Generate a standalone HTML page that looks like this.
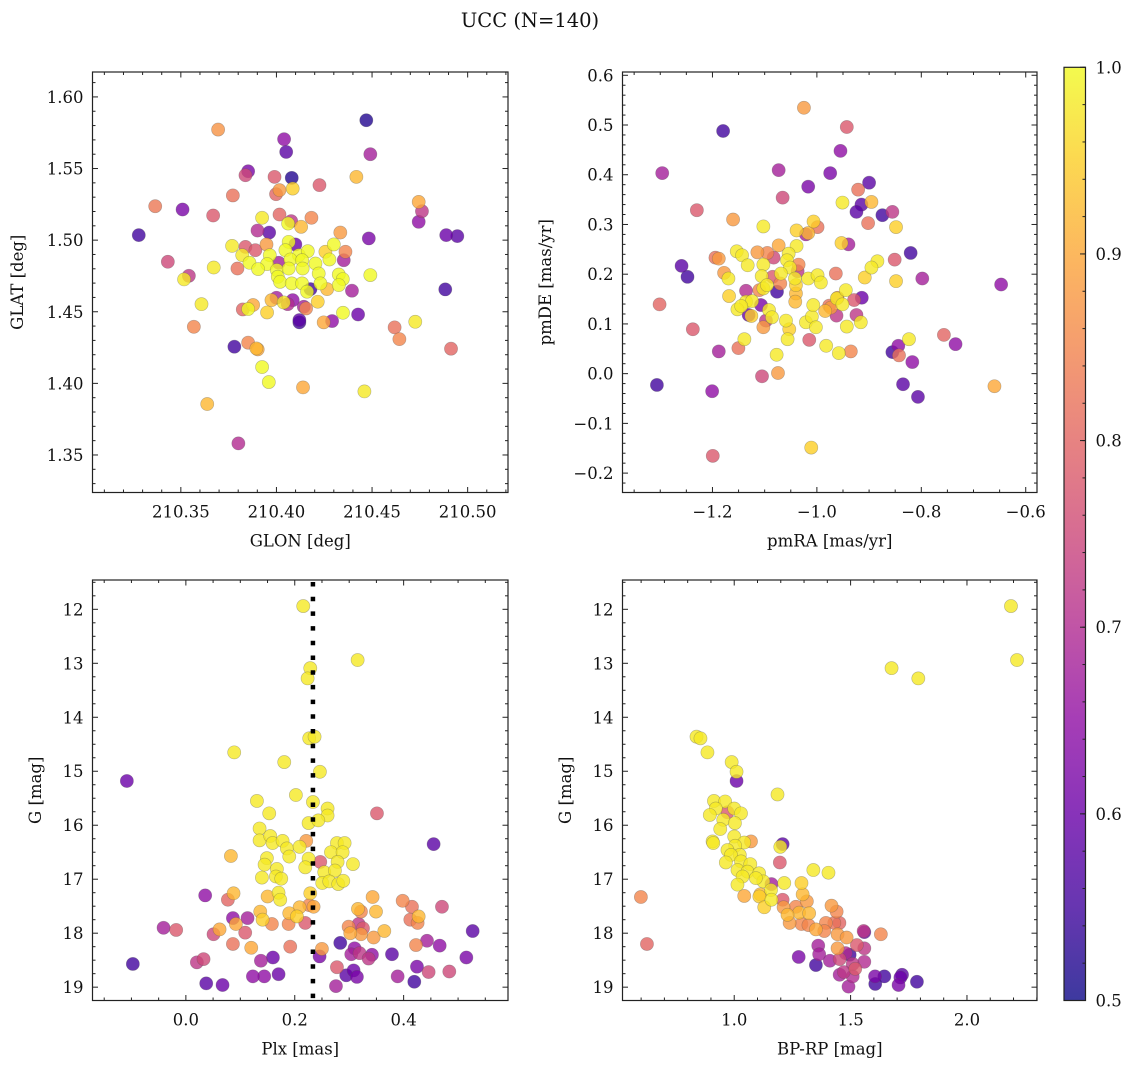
<!DOCTYPE html>
<html><head><meta charset="utf-8">
<style>
html,body{margin:0;padding:0;background:#fff;}
svg{display:block;font-family:"DejaVu Serif","Liberation Serif",serif;}
</style></head>
<body>
<svg id="fig" width="1136" height="1067" viewBox="0 0 1136 1067" xmlns="http://www.w3.org/2000/svg">
<rect width="1136" height="1067" fill="#fff"/>
<text x="530" y="27" font-size="19.5" text-anchor="middle" fill="#111">UCC (N=140)</text>
</svg>
<script>
// ---------- Panel 1: GLON vs GLAT ----------
const glon1 = [210.4470,210.3695,210.4040,210.4051,210.4491,210.3852,210.3838,210.3990,210.4080,210.4418,210.4225,210.4016,210.4085,210.3998,210.3772,210.4744,210.4761,210.3366,210.3509,210.3669,210.3925,210.4016,210.4077,210.4061,210.4183,210.4129,210.4744,210.3901,210.3962,210.4334,210.3280,210.4483,210.4888,210.4946,210.3768,210.3838,210.3948,210.4064,210.4099,210.3890,210.3821,210.3965,210.4047,210.4117,210.4164,210.4256,210.4300,210.4361,210.4352,210.4277,210.3432,210.3859,210.3951,210.4012,210.4073,210.4134,210.4204,210.3672,210.3796,210.3904,210.4002,210.4064,210.4137,210.4221,210.3542,210.3517,210.4007,210.4019,210.4080,210.4134,210.4230,210.4326,210.4347,210.4326,210.4491,210.4178,210.4160,210.4265,210.4395,210.4883,210.3608,210.3878,210.3974,210.4000,210.4038,210.4059,210.4085,210.4143,210.4155,210.4216,210.3824,210.3852,210.3951,210.4120,210.4120,210.4291,210.4247,210.4348,210.4427,210.4726,210.3568,210.4618,210.4643,210.4913,210.3780,210.3852,210.3895,210.3902,210.3925,210.3960,210.4139,210.4460,210.3638,210.3801];
const glat1 = [1.5837,1.5772,1.5705,1.5616,1.5600,1.5481,1.5453,1.5442,1.5435,1.5442,1.5384,1.5349,1.5360,1.5321,1.5312,1.5267,1.5202,1.5237,1.5214,1.5172,1.5156,1.5179,1.5133,1.5116,1.5156,1.5093,1.5128,1.5067,1.5053,1.5053,1.5035,1.5012,1.5035,1.5028,1.4960,1.4953,1.4970,1.4988,1.4970,1.4930,1.4895,1.4895,1.4930,1.4895,1.4923,1.4919,1.4970,1.4919,1.4860,1.4865,1.4849,1.4842,1.4833,1.4842,1.4865,1.4860,1.4837,1.4809,1.4802,1.4798,1.4791,1.4802,1.4802,1.4767,1.4751,1.4726,1.4744,1.4709,1.4698,1.4698,1.4698,1.4760,1.4728,1.4686,1.4756,1.4658,1.4640,1.4658,1.4647,1.4656,1.4553,1.4547,1.4581,1.4598,1.4565,1.4553,1.4581,1.4535,1.4523,1.4570,1.4516,1.4519,1.4495,1.4442,1.4426,1.4435,1.4426,1.4493,1.4481,1.4430,1.4395,1.4391,1.4309,1.4242,1.4256,1.4284,1.4244,1.4237,1.4114,1.4009,1.3972,1.3944,1.3856,1.3581];
const prob1 = [0.52,0.87,0.65,0.58,0.68,0.62,0.75,0.78,0.52,0.92,0.78,0.88,0.95,0.8,0.82,0.9,0.72,0.83,0.62,0.78,0.98,0.8,0.72,1.0,0.85,0.92,0.65,0.7,0.58,0.88,0.55,0.62,0.6,0.58,0.98,0.78,0.88,1.0,0.6,0.78,0.98,1.0,1.0,1.0,1.0,0.95,1.0,0.85,0.68,1.0,0.75,1.0,1.0,0.68,1.0,1.0,1.0,0.98,0.82,1.0,1.0,1.0,1.0,1.0,0.72,0.98,1.0,1.0,1.0,1.0,1.0,1.0,1.0,1.0,1.0,0.55,1.0,0.92,0.68,0.55,0.98,0.9,0.92,0.68,0.98,0.7,0.65,0.68,0.85,0.95,0.8,1.0,0.95,0.58,0.55,0.65,0.9,1.0,0.6,0.98,0.85,0.82,0.85,0.8,0.55,0.85,0.92,0.9,1.0,1.0,0.9,0.98,0.92,0.7];

// ---------- Panel 2: pmRA vs pmDE ----------
const pmra2 = [-1.0248,-0.9427,-1.1796,-1.2962,-0.9548,-1.0732,-0.9745,-1.0166,-0.9000,-0.9210,-1.0656,-0.9510,-0.9146,-0.8955,-0.9242,-0.8745,-0.8554,-1.2299,-1.1605,-0.9019,-0.8484,-1.1025,-1.0389,-1.0064,-0.9987,-1.0210,-1.0166,-0.9529,-0.9395,-1.0732,-1.0389,-1.1535,-1.1433,-1.1140,-1.0949,-1.0828,-1.0541,-1.0573,-1.1943,-1.1879,-1.2592,-1.2478,-1.1325,-1.1025,-1.0516,-1.0350,-1.0369,-1.0688,-0.8841,-0.8955,-0.8510,-0.8204,-1.1777,-1.1694,-1.1057,-1.0847,-1.0420,-1.0166,-0.9987,-0.9924,-0.9637,-0.9083,-0.8484,-0.7981,-0.6471,-1.1357,-1.1102,-1.1025,-1.0955,-1.0764,-1.0701,-1.0401,-1.0401,-1.0414,-1.1682,-1.3013,-1.1357,-1.1242,-1.1070,-1.1522,-1.1450,-1.1306,-1.1255,-1.0917,-1.0860,-1.0975,-1.1025,-1.0592,-1.0529,-1.0561,-1.0210,-1.0096,-1.0070,-1.0019,-0.9841,-0.9764,-0.9732,-0.9624,-0.9605,-0.9618,-0.9446,-0.9510,-0.9287,-0.9140,-0.9242,-0.9159,-0.9427,-1.2376,-1.1389,-1.1503,-1.1879,-1.0146,-0.9822,-0.9580,-0.9350,-1.0771,-0.8236,-0.8440,-0.8554,-0.8427,-0.8172,-0.7567,-0.7344,-1.1051,-1.0745,-1.3064,-1.2006,-0.8350,-0.8064,-0.6599,-1.0108,-1.1994];
const pmde2 = [0.5347,0.4960,0.4880,0.4033,0.4480,0.4093,0.4033,0.3760,0.3840,0.3700,0.3540,0.3440,0.3400,0.3453,0.3253,0.3187,0.3253,0.3287,0.3100,0.3027,0.2947,0.2960,0.2880,0.3060,0.2947,0.2800,0.2827,0.2627,0.2600,0.2580,0.2567,0.2460,0.2380,0.2440,0.2427,0.2333,0.2413,0.2280,0.2333,0.2313,0.2167,0.1947,0.2180,0.2193,0.2133,0.2193,0.2060,0.2013,0.2260,0.2133,0.2293,0.2427,0.2027,0.1913,0.1960,0.1947,0.1913,0.1913,0.1980,0.1833,0.2013,0.1933,0.1860,0.1913,0.1793,0.1667,0.1680,0.1713,0.1780,0.1647,0.1813,0.1780,0.1613,0.1447,0.1560,0.1393,0.1447,0.1460,0.1380,0.1293,0.1360,0.1180,0.1160,0.1280,0.1133,0.1067,0.0933,0.1067,0.0893,0.0693,0.1033,0.1147,0.1380,0.0933,0.1260,0.1367,0.1327,0.1167,0.1527,0.1513,0.1680,0.1393,0.1480,0.1527,0.1180,0.1033,0.0947,0.0893,0.0693,0.0513,0.0447,0.0680,0.0560,0.0413,0.0447,0.0380,0.0693,0.0560,0.0433,0.0367,0.0233,0.0780,0.0593,-0.0053,0.0013,-0.0227,-0.0353,-0.0213,-0.0467,-0.0253,-0.1487,-0.1653];
const prob2 = [0.88,0.78,0.55,0.68,0.65,0.68,0.62,0.62,0.58,0.82,0.75,0.98,0.58,0.92,0.58,0.55,0.72,0.78,0.88,0.82,0.95,0.98,0.95,0.95,0.82,0.68,0.92,0.95,0.68,0.9,0.98,0.98,0.98,0.88,0.85,0.75,0.98,0.98,0.82,0.88,0.58,0.55,0.98,0.98,0.98,0.85,0.72,0.98,0.98,0.98,0.78,0.55,0.88,0.98,0.98,0.78,0.98,0.98,0.98,0.98,0.82,0.95,0.95,0.68,0.65,0.7,0.85,0.98,0.98,0.55,0.85,0.95,0.92,0.92,0.95,0.8,0.98,0.98,0.62,0.98,0.98,0.6,0.95,0.98,0.98,0.72,0.88,0.98,0.95,0.98,0.98,0.98,0.98,0.98,0.92,0.82,0.88,0.72,0.85,0.98,0.98,0.98,0.78,0.6,0.72,0.98,0.98,0.78,0.98,0.82,0.68,0.78,0.98,0.98,0.85,0.98,0.98,0.65,0.55,0.82,0.65,0.8,0.65,0.75,0.88,0.55,0.65,0.58,0.58,0.9,0.95,0.78];

// ---------- Panel 3: Plx vs G ----------
const plx3 = [0.2156,0.3155,0.2285,0.2236,0.2266,0.2364,0.0888,0.1807,0.2462,-0.1084,0.2021,0.1305,0.2334,0.2603,0.2603,0.1531,0.3510,0.2254,0.2432,0.1354,0.1354,0.1550,0.1593,0.1777,0.1856,0.1899,0.2089,0.2211,0.2775,0.2916,0.2665,0.2879,0.4551,0.0827,0.1488,0.1446,0.1672,0.1654,0.1752,0.1397,0.2254,0.2469,0.2193,0.2787,0.3069,0.2542,0.2738,0.2505,0.2634,0.2799,0.2891,0.2285,0.0876,0.0355,0.0772,0.1501,0.1703,0.1733,0.3430,0.3982,0.2346,0.2266,0.2089,0.1899,0.2040,0.1366,0.1409,0.3161,0.3216,0.3492,0.4153,0.4276,0.4123,0.4257,0.4704,0.0864,0.1133,0.0919,0.1580,0.1887,0.2193,-0.0410,-0.0178,0.0508,0.0619,0.1090,0.2989,0.3173,0.3253,0.3020,0.3216,0.3449,0.3645,0.5268,0.0864,0.1201,0.1917,0.2499,0.2836,0.4227,0.4429,0.4662,0.3099,0.3191,0.3038,0.3418,0.3357,0.3786,0.5152,0.2456,0.1599,0.1378,0.0325,0.0202,-0.0974,0.2775,0.3081,0.2946,0.3142,0.1703,0.1440,0.1231,0.0374,0.0674,0.2757,0.3890,0.4245,0.4196,0.4459,0.4839];
const gmag3 = [11.94,12.94,13.09,13.28,14.39,14.36,14.65,14.83,15.01,15.18,15.44,15.55,15.57,15.69,15.82,15.78,15.78,15.96,15.91,16.06,16.28,16.20,16.33,16.29,16.43,16.58,16.40,16.29,16.33,16.33,16.50,16.50,16.35,16.57,16.61,16.73,16.81,16.95,16.99,16.97,16.62,16.68,16.78,16.68,16.72,16.87,16.84,17.07,17.04,17.09,17.03,17.26,17.26,17.30,17.38,17.32,17.25,17.38,17.33,17.40,17.51,17.48,17.52,17.63,17.69,17.60,17.75,17.55,17.60,17.60,17.51,17.69,17.75,17.81,17.51,17.72,17.72,17.83,17.83,17.83,17.81,17.90,17.94,18.02,17.93,17.99,17.88,17.83,17.91,18.00,18.02,18.08,17.96,17.96,18.20,18.27,18.25,18.29,18.18,18.22,18.14,18.23,18.28,18.37,18.39,18.40,18.47,18.39,18.45,18.43,18.45,18.51,18.48,18.54,18.57,18.63,18.69,18.78,18.81,18.76,18.80,18.80,18.93,18.96,18.98,18.80,18.62,18.90,18.72,18.71];
const prob3 = [0.98,0.98,0.98,0.98,0.98,0.98,0.98,0.98,0.98,0.6,0.98,0.98,0.98,0.98,0.98,0.98,0.78,0.98,0.98,0.98,0.98,0.98,0.98,0.98,0.98,0.98,0.98,0.88,0.98,0.98,0.98,0.98,0.58,0.92,0.98,0.98,0.98,0.98,0.98,0.98,0.98,0.78,0.98,0.98,0.98,0.98,0.98,0.98,0.98,0.98,0.98,0.95,0.92,0.65,0.8,0.92,0.98,0.98,0.9,0.85,0.9,0.85,0.92,0.92,0.95,0.92,0.95,0.92,0.85,0.92,0.82,0.92,0.82,0.85,0.75,0.65,0.68,0.9,0.85,0.85,0.78,0.68,0.78,0.75,0.9,0.78,0.85,0.72,0.78,0.9,0.88,0.88,0.92,0.58,0.82,0.9,0.82,0.88,0.55,0.85,0.68,0.65,0.65,0.72,0.68,0.65,0.72,0.58,0.62,0.62,0.6,0.68,0.75,0.72,0.55,0.78,0.6,0.58,0.62,0.6,0.65,0.65,0.58,0.6,0.68,0.68,0.62,0.55,0.75,0.75];
const plxLine = 0.2334;

// ---------- Panel 4: BP-RP vs G ----------
const bprp4 = [2.189,2.215,1.676,1.791,0.838,0.855,0.885,0.989,1.010,1.010,1.186,0.913,0.961,0.921,1.000,0.971,0.895,1.029,0.953,1.003,0.940,1.000,0.907,0.910,1.072,1.043,1.004,0.971,1.208,1.198,1.024,0.986,0.964,1.029,1.069,1.196,1.014,1.057,1.036,1.107,1.125,1.093,1.014,1.160,1.215,1.340,1.405,1.289,1.158,1.112,1.108,1.043,1.294,1.160,1.208,1.312,1.129,1.212,1.265,1.279,1.322,1.229,1.238,1.289,1.319,1.418,1.440,1.394,1.430,1.452,1.351,1.387,1.444,1.483,1.556,1.559,1.630,0.599,0.625,1.361,1.365,1.277,1.351,1.411,1.444,1.479,1.527,1.559,1.453,1.496,1.509,1.520,1.559,1.453,1.471,1.509,1.491,1.605,1.606,1.645,1.706,1.721,1.714,1.785];
const gmag4 = [11.94,12.94,13.09,13.28,14.36,14.39,14.65,14.83,15.01,15.18,15.43,15.55,15.56,15.69,15.69,15.76,15.81,15.78,15.90,15.96,16.07,16.21,16.30,16.33,16.30,16.32,16.38,16.46,16.35,16.40,16.55,16.55,16.69,16.67,16.72,16.69,16.83,16.86,16.95,16.89,17.04,16.98,17.10,17.09,17.07,16.83,16.88,17.07,17.20,17.28,17.32,17.31,17.28,17.38,17.38,17.41,17.52,17.52,17.51,17.62,17.63,17.66,17.81,17.83,17.85,17.49,17.60,17.81,17.81,17.81,17.93,17.96,18.02,18.08,17.96,17.98,18.02,17.33,18.20,18.23,18.39,18.44,18.59,18.51,18.28,18.37,18.22,18.28,18.48,18.40,18.57,18.66,18.53,18.77,18.72,18.80,18.99,18.80,18.94,18.80,18.96,18.77,18.82,18.90];
const prob4 = [0.98,0.98,0.98,0.98,0.98,0.98,0.98,0.98,0.98,0.6,0.98,0.98,0.98,0.98,0.98,0.78,0.98,0.98,0.98,0.98,0.98,0.98,0.98,0.98,0.88,0.98,0.98,0.98,0.58,0.98,0.98,0.98,0.98,0.98,0.98,0.78,0.98,0.98,0.98,0.98,0.98,0.98,0.98,0.68,0.98,0.98,0.98,0.95,0.98,0.92,0.95,0.9,0.92,0.98,0.78,0.88,0.95,0.88,0.85,0.92,0.92,0.92,0.88,0.85,0.85,0.88,0.85,0.85,0.82,0.8,0.9,0.85,0.88,0.88,0.72,0.6,0.85,0.85,0.8,0.68,0.68,0.62,0.55,0.68,0.88,0.7,0.78,0.72,0.75,0.55,0.72,0.78,0.7,0.68,0.72,0.7,0.68,0.62,0.55,0.55,0.62,0.58,0.6,0.55];

// colorbar
const cbTicks = [0.5,0.6,0.7,0.8,0.9,1.0];
const cbMin = 0.5, cbMax = 1.0;

const NS = "http://www.w3.org/2000/svg";
const svg = document.getElementById('fig');
function el(tag, attrs, parent){
  const e = document.createElementNS(NS, tag);
  for (const k in attrs) e.setAttribute(k, attrs[k]);
  (parent||svg).appendChild(e);
  return e;
}
const plasmaStops = ["#0d0887","#41049d","#6a00a8","#8f0da4","#b12a90","#cc4778","#e16462","#f2844b","#fca636","#fcce25","#f0f921"];
function hex(h){return [parseInt(h.slice(1,3),16),parseInt(h.slice(3,5),16),parseInt(h.slice(5,7),16)];}
function cmap(v){
  let t=(v-cbMin)/(cbMax-cbMin); t=Math.max(0,Math.min(1,t));
  const f=t*10, i=Math.min(9,Math.floor(f)), r=f-i;
  const a=hex(plasmaStops[i]), b=hex(plasmaStops[i+1]);
  return "rgb("+a.map((x,k)=>Math.round(x+(b[k]-x)*r)).join(",")+")";
}
function fmt(v,d){ const s=Math.abs(v).toFixed(d); return (v< -1e-9?"\u2212":"")+s; }
const TICKFS = 16.5, LABFS = 16.5;

function panel(cfg){
  const g = el('g',{});
  
  
  const L=cfg.x0,R=cfg.x1,T=cfg.y0,B=cfg.y1;
  const sx=v=>L+(v-cfg.xmin)/(cfg.xmax-cfg.xmin)*(R-L);
  const sy=cfg.yinv ? (v=>T+(v-cfg.ymin)/(cfg.ymax-cfg.ymin)*(B-T)) : (v=>B-(v-cfg.ymin)/(cfg.ymax-cfg.ymin)*(B-T));
  const pg = el('g',{},g);
  
  
  const idx = cfg.xs.map((_,i)=>i).sort((a,b)=>cfg.cs[a]-cfg.cs[b]);
  idx.forEach(i=>{
    const c = el('circle',{cx:sx(cfg.xs[i]).toFixed(2),cy:sy(cfg.ys[i]).toFixed(2),r:6.6,fill:cmap(cfg.cs[i]),'fill-opacity':0.8,stroke:'#555','stroke-opacity':0.4,'stroke-width':0.6},pg);
    
    
  });
  if (cfg.vline!==undefined){
    const vl = el('line',{x1:sx(cfg.vline),x2:sx(cfg.vline),y1:T+2,y2:B,stroke:'#000','stroke-width':4.5,'stroke-dasharray':'4.5 10.2'},g);
    
    
  }
  const fr = el('rect',{x:L,y:T,width:R-L,height:B-T,fill:'none',stroke:'#222','stroke-width':1.2},g);
  
  
  const tk = el('g',{stroke:'#222','stroke-width':1},g);
  const eps=1e-9;
  for (let v=Math.ceil((cfg.xmin)/cfg.xminor-eps)*cfg.xminor; v<=cfg.xmax+eps; v+=cfg.xminor){
    const vv=Math.round(v/cfg.xminor)*cfg.xminor;
    const major = Math.abs(vv/cfg.xmajor-Math.round(vv/cfg.xmajor))<1e-6;
    const len = major?5.5:3; const x=sx(vv);
    el('line',{x1:x,x2:x,y1:B,y2:B-len},tk); el('line',{x1:x,x2:x,y1:T,y2:T+len},tk);
    if (major){
      const t=el('text',{x:x,y:B+25,'font-size':TICKFS,'text-anchor':'middle',fill:'#111',stroke:'none'},g);
      t.textContent=fmt(vv,cfg.xdec);
      
      
    }
  }
  for (let v=Math.ceil((cfg.ymin)/cfg.yminor-eps)*cfg.yminor; v<=cfg.ymax+eps; v+=cfg.yminor){
    const vv=Math.round(v/cfg.yminor)*cfg.yminor;
    const major = Math.abs(vv/cfg.ymajor-Math.round(vv/cfg.ymajor))<1e-6;
    const len = major?5.5:3; const y=sy(vv);
    el('line',{x1:L,x2:L+len,y1:y,y2:y},tk); el('line',{x1:R,x2:R-len,y1:y,y2:y},tk);
    if (major){
      const t=el('text',{x:L-9,y:y+6,'font-size':TICKFS,'text-anchor':'end',fill:'#111',stroke:'none'},g);
      t.textContent=fmt(vv,cfg.ydec);
      
      
    }
  }
  const xl=el('text',{x:(L+R)/2,y:B+54,'font-size':LABFS,'text-anchor':'middle',fill:'#111'},g);
  xl.textContent=cfg.xlabel;
  
  
  const ly=(T+B)/2;
  const yl=el('text',{x:cfg.ylx,y:ly,'font-size':LABFS,'text-anchor':'middle',fill:'#111',transform:'rotate(-90 '+cfg.ylx+' '+ly+')'},g);
  yl.textContent=cfg.ylabel;
  
  
}

panel({name:'glon-glat-panel',x0:92.5,x1:508,y0:72,y1:492.5,xmin:210.3038,xmax:210.5211,ymin:1.3238,ymax:1.6174,
  xmajor:0.05,xminor:0.01,ymajor:0.05,yminor:0.01,xdec:2,ydec:2,xs:glon1,ys:glat1,cs:prob1,xlabel:'GLON [deg]',ylabel:'GLAT [deg]',ylx:23});
panel({name:'proper-motion-panel',x0:622.5,x1:1037,y0:72,y1:492.5,xmin:-1.3723,xmax:-0.5784,ymin:-0.239,ymax:0.6066,
  xmajor:0.2,xminor:0.05,ymajor:0.1,yminor:0.02,xdec:1,ydec:1,xs:pmra2,ys:pmde2,cs:prob2,xlabel:'pmRA [mas/yr]',ylabel:'pmDE [mas/yr]',ylx:551});
panel({name:'plx-g-panel',x0:92.5,x1:508,y0:580,y1:1000.5,xmin:-0.1715,xmax:0.5917,ymin:11.457,ymax:19.247,yinv:true,
  xmajor:0.2,xminor:0.05,ymajor:1,yminor:0.25,xdec:1,ydec:0,xs:plx3,ys:gmag3,cs:prob3,vline:plxLine,xlabel:'Plx [mas]',ylabel:'G [mag]',ylx:41});
panel({name:'cmd-panel',x0:622.5,x1:1037,y0:580,y1:1000.5,xmin:0.520,xmax:2.3009,ymin:11.457,ymax:19.247,yinv:true,
  xmajor:0.5,xminor:0.1,ymajor:1,yminor:0.25,xdec:1,ydec:0,xs:bprp4,ys:gmag4,cs:prob4,xlabel:'BP-RP [mag]',ylabel:'G [mag]',ylx:571});

(function(){
  const L=1064,R=1085.5,T=67.3,B=1000.5;
  const g=el('g',{});
  
  
  const defs=el('defs',{},g);
  const lg=el('linearGradient',{id:'cbg',x1:0,y1:1,x2:0,y2:0},defs);
  for(let i=0;i<=20;i++){ const v=cbMin+(cbMax-cbMin)*i/20; el('stop',{offset:(i/20),'stop-color':cmap(v),'stop-opacity':0.8},lg); }
  el('rect',{x:L,y:T,width:R-L,height:B-T,fill:'url(#cbg)',stroke:'#222','stroke-width':1.2},g);
  const sy=v=>B-(v-cbMin)/(cbMax-cbMin)*(B-T);
  for(let k=0;k<=25;k++){ const v=cbMin+k*0.02; const y=sy(v);
    el('line',{x1:R,x2:R-3,y1:y,y2:y,stroke:'#222','stroke-width':1},g); }
  cbTicks.forEach(v=>{ const y=sy(v);
    el('line',{x1:R,x2:R-5.5,y1:y,y2:y,stroke:'#222','stroke-width':1},g);
    const t=el('text',{x:R+10,y:y+6,'font-size':TICKFS,fill:'#111'},g);
    t.textContent=v.toFixed(1);
    
    
  });
})();
</script>
</body></html>
